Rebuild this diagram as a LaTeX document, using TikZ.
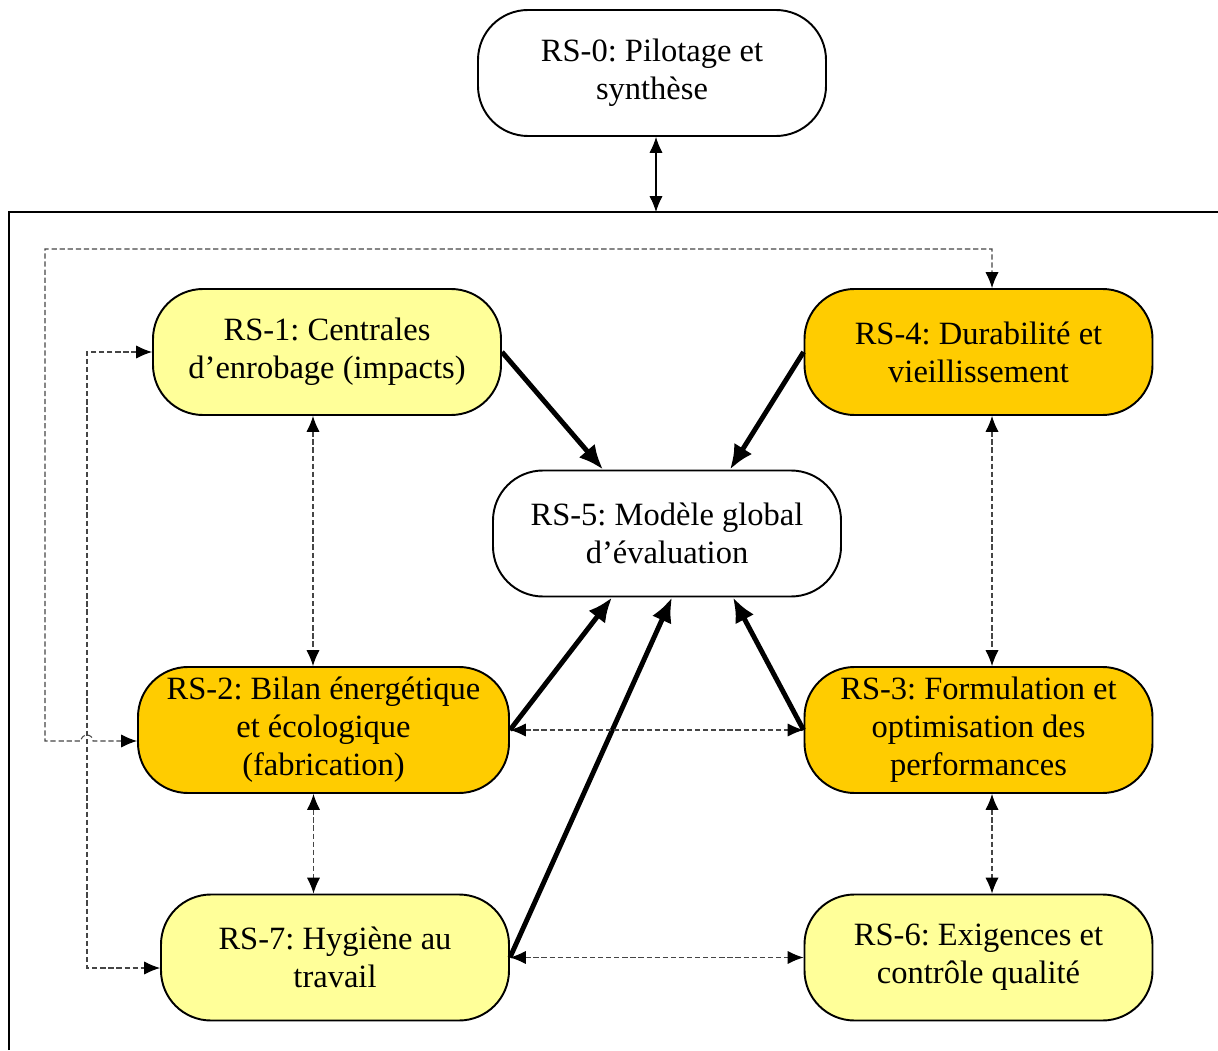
\documentclass[tikz,border=0pt]{standalone}
\usepackage{fontspec}
\setmainfont{Liberation Serif}
\frenchspacing
\definecolor{paleYellow}{HTML}{FFFF99}
\definecolor{goldYellow}{HTML}{FFCC00}
\definecolor{linkGray}{HTML}{454545}
\usetikzlibrary{arrows.meta,positioning}

\begin{document}
\begin{tikzpicture}[
    rsbox/.style={draw, line width=1.1pt, rounded corners=1cm, align=center,
      minimum width=6.96cm, minimum height=2.52cm, inner sep=2pt,
      font=\fontsize{18.5}{21.6}\selectfont},
    thickarrow/.style={-{Latex[length=14pt,width=12pt]}, line width=2.8pt},
    dashlink/.style={{Latex[length=9pt,width=7.5pt,color=black]}-{Latex[length=9pt,width=7.5pt,color=black]},
      draw=linkGray, line width=0.6pt, dash pattern=on 3pt off 1.6pt}]
  \useasboundingbox (0,0) rectangle (24.36,21);
  % Pilotage box and frame
  \node[rsbox, fill=white] (rs0) at (13.04,19.54) {RS-0: Pilotage et\\synthèse};
  \coordinate (frametl) at (0.18,16.76);
  \coordinate (frametr) at (24.36,16.76);
  \coordinate (framebl) at (0.18,0);
  \draw[line width=1.1pt] (framebl) -- (frametl) -- (frametr);
  \draw[{Latex[length=9pt,width=7.5pt]}-{Latex[length=9pt,width=7.5pt]}, line width=0.6pt]
    ([xshift=0.08cm]rs0.south) -- ([xshift=0.08cm]rs0.south |- frametl);
  % Work packages
  \node[rsbox, fill=paleYellow] (rs1) at (6.54,13.96) {RS-1: Centrales\\d’enrobage (impacts)};
  \node[rsbox, fill=goldYellow] (rs4) at (19.57,13.96) {RS-4: Durabilité et\\vieillissement};
  \node[rsbox, fill=white] (rs5) at (13.34,10.33) {RS-5: Modèle global\\d’évaluation};
  \node[rsbox, fill=goldYellow, minimum width=7.42cm] (rs2) at (6.47,6.40)
    {RS-2: Bilan énergétique\\et écologique\\(fabrication)};
  \node[rsbox, fill=goldYellow] (rs3) at (19.57,6.40)
    {RS-3: Formulation et\\optimisation des\\performances};
  \node[rsbox, fill=paleYellow] (rs7) at (6.70,1.85) {RS-7: Hygiène au\\travail};
  \node[rsbox, fill=paleYellow] (rs6) at (19.57,1.85) {RS-6: Exigences et\\contrôle qualité};
  % Main flows into the global model
  \draw[thickarrow] (rs1.east) -- ([xshift=-1.28cm]rs5.north);
  \draw[thickarrow] (rs4.west) -- ([xshift=1.26cm]rs5.north);
  \draw[thickarrow] (rs2.east) -- ([xshift=-1.1cm]rs5.south);
  \draw[thickarrow] (rs7.east) -- ([xshift=0.1cm]rs5.south);
  \draw[thickarrow] (rs3.west) -- ([xshift=1.32cm]rs5.south);
  % Exchanges between packages
  \draw[dashlink] ([xshift=-0.28cm]rs1.south) -- ([xshift=-0.28cm]rs1.south |- rs2.north);
  \draw[dashlink] ([xshift=-0.2cm]rs2.south) -- ([xshift=-0.2cm]rs2.south |- rs7.north);
  \draw[dashlink] ([xshift=0.27cm]rs4.south) -- ([xshift=0.27cm]rs4.south |- rs3.north);
  \draw[dashlink] ([xshift=0.27cm]rs3.south) -- ([xshift=0.27cm]rs3.south |- rs6.north);
  \draw[dashlink] (rs2.east) -- (rs3.west);
  \draw[dashlink] (rs7.east) -- (rs6.west);
  % Outer loops (with hop at the crossing)
  \coordinate (loopa) at (0.9,16.02);
  \coordinate (loopb) at (1.74,1.64);
  \draw[dashlink] ([yshift=-0.22cm]rs2.west) -- (1.86,6.18)
    arc[start angle=0, end angle=180, radius=0.12] -- (0.9,6.18) -- (loopa)
    -| ([xshift=0.27cm]rs4.north);
  \draw[dashlink] (rs1.west) -| (loopb) -- ([yshift=-0.21cm]rs7.west);
\end{tikzpicture}
\end{document}
